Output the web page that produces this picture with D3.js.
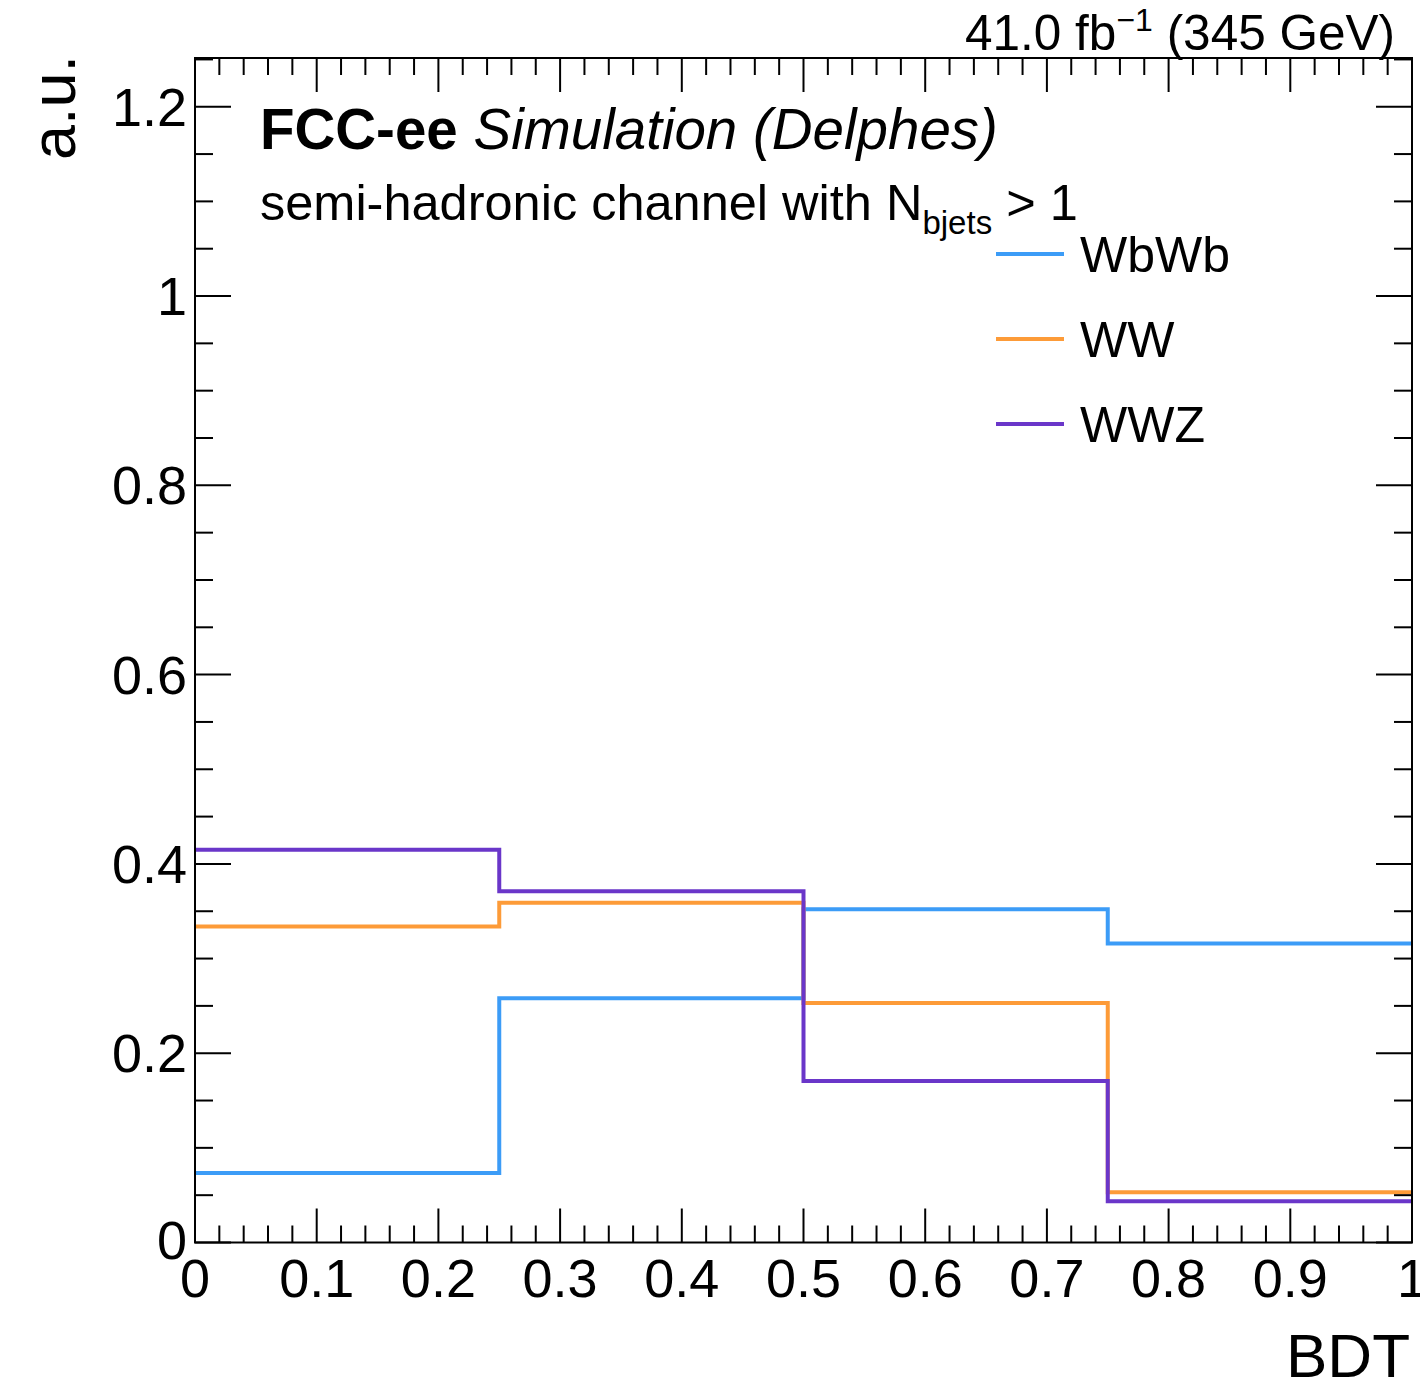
<!DOCTYPE html>
<html>
<head>
<meta charset="utf-8">
<script src="https://cdn.jsdelivr.net/npm/d3@7"></script>
<style>
  body { margin: 0; background: white; }
  text { font-family: "Liberation Sans", Arial, sans-serif; fill: black; }
</style>
</head>
<body>
<svg width="1420" height="1386"></svg>
<script>
var binEdges = [0, 0.25, 0.5, 0.75, 1.0];
var seriesNames = ["WbWb", "WW", "WWZ"];
var seriesColors = ["#3c9cf7", "#fd9b38", "#6a36c9"];
var wbwbValues = [0.0734, 0.258, 0.352, 0.316];
var wwValues = [0.334, 0.359, 0.253, 0.053];
var wwzValues = [0.415, 0.371, 0.1706, 0.0435];
var xTickLabels = ["0", "0.1", "0.2", "0.3", "0.4", "0.5", "0.6", "0.7", "0.8", "0.9", "1"];
var yTickLabels = ["0", "0.2", "0.4", "0.6", "0.8", "1", "1.2"];

var svg = d3.select("svg"),
    padLeft = 195, padRight = 1412, padTop = 58, padBottom = 1242.5;

var x = d3.scaleLinear().domain([0, 1]).range([padLeft, padRight]);
var y = d3.scaleLinear().domain([0, 1.2515]).range([padBottom, padTop]);

// histograms
var allValues = [wbwbValues, wwValues, wwzValues];
var line = d3.line().curve(d3.curveStepAfter)
    .x(function (d) { return x(d[0]); })
    .y(function (d) { return y(d[1]); });

allValues.forEach(function (vals, k) {
    var pts = vals.map(function (v, i) { return [binEdges[i], v]; });
    pts.push([binEdges[binEdges.length - 1], vals[vals.length - 1]]);
    svg.append("path").datum(pts)
        .attr("d", line)
        .attr("fill", "none")
        .attr("stroke", seriesColors[k])
        .attr("stroke-width", 4);
});

// frame
svg.append("rect")
    .attr("x", padLeft).attr("y", padTop)
    .attr("width", padRight - padLeft).attr("height", padBottom - padTop)
    .attr("fill", "none").attr("stroke", "black").attr("stroke-width", 2);

var g = svg.append("g");

// x ticks (bottom and top)
var xMinor = d3.range(0, 51).map(function (i) { return i / 50; });
xMinor.forEach(function (v, i) {
    var len = (i % 5 === 0) ? 34 : 17;
    g.append("line").attr("x1", x(v)).attr("x2", x(v))
        .attr("y1", padBottom).attr("y2", padBottom - len)
        .attr("stroke", "black").attr("stroke-width", 2);
    g.append("line").attr("x1", x(v)).attr("x2", x(v))
        .attr("y1", padTop).attr("y2", padTop + len)
        .attr("stroke", "black").attr("stroke-width", 2);
});
xTickLabels.forEach(function (t, i) {
    svg.append("text").attr("x", x(i / 10)).attr("y", 1297)
        .attr("text-anchor", "middle").attr("font-size", 54).text(t);
});

// y ticks (left and right)
var yMinor = d3.range(0, 26).map(function (i) { return i * 0.05; });
yMinor.forEach(function (v, i) {
    var len = (i % 4 === 0) ? 36 : 18;
    g.append("line").attr("x1", padLeft).attr("x2", padLeft + len)
        .attr("y1", y(v)).attr("y2", y(v))
        .attr("stroke", "black").attr("stroke-width", 2);
    g.append("line").attr("x1", padRight).attr("x2", padRight - len)
        .attr("y1", y(v)).attr("y2", y(v))
        .attr("stroke", "black").attr("stroke-width", 2);
});
yTickLabels.forEach(function (t, i) {
    svg.append("text").attr("x", 187).attr("y", y(i * 0.2) + (i === 0 ? 16 : 19))
        .attr("text-anchor", "end").attr("font-size", 54).text(t);
});

// legend
seriesNames.forEach(function (name, k) {
    var ly = 254 + k * 85;
    svg.append("line").attr("x1", 996).attr("x2", 1064)
        .attr("y1", ly).attr("y2", ly)
        .attr("stroke", seriesColors[k]).attr("stroke-width", 4);
    svg.append("text").attr("x", 1080).attr("y", ly + 18)
        .attr("font-size", 50).text(name);
});

// labels
var t1 = svg.append("text").attr("x", 260).attr("y", 149).attr("font-size", 56.5);
t1.append("tspan").attr("font-weight", "bold").text("FCC-ee ");
t1.append("tspan").attr("font-style", "italic").text("Simulation (Delphes)");

var t2 = svg.append("text").attr("x", 260).attr("y", 220).attr("font-size", 50.5);
t2.append("tspan").text("semi-hadronic channel with N");
t2.append("tspan").attr("font-size", 33).attr("dy", 14).text("bjets");
t2.append("tspan").attr("dy", -14).text(" > 1");

var t3 = svg.append("text").attr("x", 1395).attr("y", 50)
    .attr("text-anchor", "end").attr("font-size", 49.5);
t3.append("tspan").text("41.0 fb");
t3.append("tspan").attr("font-size", 32).attr("dy", -19).text("\u22121");
t3.append("tspan").attr("dy", 19).text(" (345 GeV)");

svg.append("text").attr("x", 1410).attr("y", 1377)
    .attr("text-anchor", "end").attr("font-size", 62).text("BDT");

svg.append("text")
    .attr("transform", "translate(75,55) rotate(-90)")
    .attr("text-anchor", "end").attr("font-size", 63).text("a.u.");
</script>
</body>
</html>
